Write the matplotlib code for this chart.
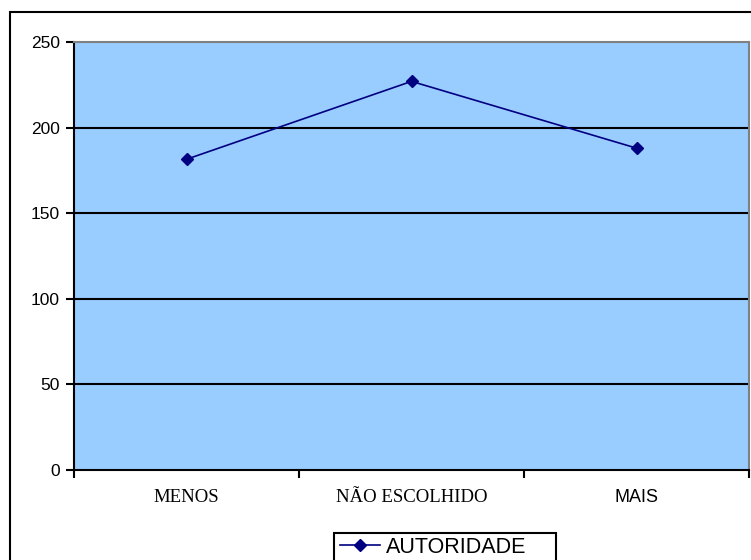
import matplotlib
matplotlib.use("Agg")
import matplotlib.pyplot as plt
from matplotlib.patches import Rectangle
from matplotlib.lines import Line2D

categories = ["MENOS", "NÃO ESCOLHIDO", "MAIS"]
values = [181.5, 227, 188]
series_name = "AUTORIDADE"
y_ticks = [0, 50, 100, 150, 200, 250]

W, H = 751, 560
fig = plt.figure(figsize=(W / 100, H / 100), dpi=100)

# chart frame (extends past the right and bottom edges)
fig.patches.append(Rectangle((10 / W, -0.1), 1.2, 1 - 12 / H + 0.1,
                             transform=fig.transFigure, fill=False,
                             edgecolor="black", linewidth=1.5, zorder=0))

ax = fig.add_axes([74 / W, 90 / H, 675 / W, 428 / H])
ax.set_facecolor("#99CCFF")
n = len(categories)
x = [i + 0.5 for i in range(n)]
ax.set_xlim(0, n)
ax.set_ylim(0, 250)

for yv in y_ticks[1:-1]:
    ax.axhline(yv, color="black", linewidth=1.5, zorder=1)

ax.plot(x, values, color="#000080", linewidth=1.2, marker="D",
        markersize=6, zorder=3)

for side in ("top", "right"):
    ax.spines[side].set_color("#808080")
    ax.spines[side].set_linewidth(1.5)
for side in ("left", "bottom"):
    ax.spines[side].set_color("black")
    ax.spines[side].set_linewidth(1.5)

ax.set_yticks(y_ticks)
ax.set_yticklabels([str(v) for v in y_ticks], fontfamily="Liberation Sans",
                   fontsize=12.5)
ax.tick_params(axis="y", direction="out", length=6, width=1.5, pad=4)

ax.set_xticks(range(n + 1))
ax.set_xticklabels([])
ax.tick_params(axis="x", direction="out", length=6, width=1.5)
fonts = ["Liberation Serif", "Liberation Serif", "Liberation Sans"]
sizes = [13.5, 13.5, 13]
for xi, lab, fam, fs in zip(x, categories, fonts, sizes):
    ax.text(xi, -27 * 250 / 428, lab, ha="center", va="center",
            fontfamily=fam, fontsize=fs, transform=ax.transData)

# legend: entry without frame, box drawn separately
handle = Line2D([], [], color="#000080", linewidth=1.2, marker="D",
                markersize=6)
leg = fig.legend([handle], [series_name], loc="upper left",
                 bbox_to_anchor=(340 / W, 1 - 537 / H),
                 prop={"family": "Liberation Sans", "size": 15.5},
                 frameon=False, handlelength=1.85, handletextpad=0.3,
                 borderpad=0.0, borderaxespad=0)
fig.patches.append(Rectangle((334 / W, -0.1), 222 / W, 1 - 533 / H + 0.1,
                             transform=fig.transFigure, fill=False,
                             edgecolor="black", linewidth=1.5, zorder=2))

fig.savefig("out.png", dpi=100)
